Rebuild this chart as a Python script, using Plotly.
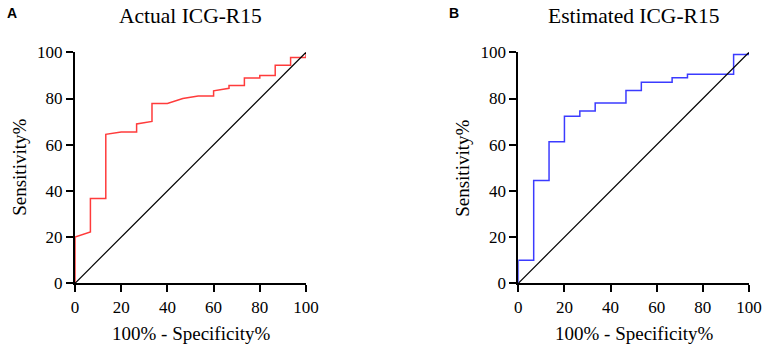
import plotly.graph_objects as go

# Data
fpr_actual = [0, 0, 6.67, 6.67, 13.33, 13.33, 20, 26.67, 26.67, 33.33, 33.33, 40, 46.67, 53.33, 60, 60,
              66.67, 66.67, 73.33, 73.33, 80, 80, 86.67, 86.67, 93.33, 93.33, 100, 100]
tpr_actual = [0, 20, 22.2, 36.7, 36.7, 64.5, 65.5, 65.5, 69, 70.1, 77.8, 77.8, 80, 81.1, 81.1, 83.3,
              84.4, 85.6, 85.6, 88.9, 88.9, 90, 90, 94.4, 94.4, 97.8, 97.8, 100]

fpr_est = [0, 0, 6.67, 6.67, 13.33, 13.33, 20, 20, 26.67, 26.67, 33.33, 33.33, 46.67, 46.67, 53.33, 53.33,
           66.67, 66.67, 73.33, 73.33, 93.33, 93.33, 100, 100]
tpr_est = [0, 10, 10, 44.5, 44.5, 61.3, 61.3, 72.3, 72.3, 74.6, 74.6, 78, 78, 83.5, 83.5, 87,
           87, 89, 89, 90.5, 90.5, 99, 99, 100]

ref_line = [0, 100]
tick_vals = [0, 20, 40, 60, 80, 100]
tick_text = ["0", "20", "40", "60", "80", "100"]

titles = ["Actual ICG-R15", "Estimated ICG-R15"]
panel_letters = ["A", "B"]
x_title = "100% - Specificity%"
y_title = "Sensitivity%"

SERIF = "Liberation Serif"

W, H = 765, 347


def px(x):
    return x / W


def py(y):
    return 1 - y / H


fig = go.Figure()

fig.add_trace(go.Scatter(x=fpr_actual, y=tpr_actual, mode="lines",
                         line=dict(color="#FF3B3B", width=1.5), xaxis="x", yaxis="y",
                         cliponaxis=False, showlegend=False))
fig.add_trace(go.Scatter(x=ref_line, y=ref_line, mode="lines",
                         line=dict(color="black", width=1.2), xaxis="x", yaxis="y",
                         cliponaxis=False, showlegend=False))
fig.add_trace(go.Scatter(x=fpr_est, y=tpr_est, mode="lines",
                         line=dict(color="#3B3BFF", width=1.5), xaxis="x2", yaxis="y2",
                         cliponaxis=False, showlegend=False))
fig.add_trace(go.Scatter(x=ref_line, y=ref_line, mode="lines",
                         line=dict(color="black", width=1.2), xaxis="x2", yaxis="y2",
                         cliponaxis=False, showlegend=False))

ydom = [py(283.3), py(52.3)]
xdom1 = [px(75), px(306)]
xdom2 = [px(518.3), px(749)]

axis_common = dict(range=[0, 100], tickvals=tick_vals, ticktext=tick_text,
                   showline=True, linecolor="black", linewidth=2,
                   ticks="outside", ticklen=7, tickwidth=2, tickcolor="black",
                   showgrid=False, zeroline=False, automargin=False,
                   tickfont=dict(family=SERIF, size=17, color="black"))

fig.update_layout(
    width=W, height=H,
    margin=dict(l=0, r=0, t=0, b=0, autoexpand=False),
    paper_bgcolor="white", plot_bgcolor="white",
    font=dict(family=SERIF, color="black"),
    xaxis=dict(domain=xdom1, anchor="y", **axis_common),
    yaxis=dict(domain=ydom, anchor="x", **axis_common),
    xaxis2=dict(domain=xdom2, anchor="y2", **axis_common),
    yaxis2=dict(domain=ydom, anchor="x2", **axis_common),
)

centers = [(xdom1[0] + xdom1[1]) / 2, (xdom2[0] + xdom2[1]) / 2]
letter_x = [px(5), px(447)]
ytitle_x = [px(20), px(463)]
for i in range(2):
    fig.add_annotation(x=centers[i], y=py(16), xref="paper", yref="paper",
                       text=titles[i], showarrow=False, xanchor="center", yanchor="middle",
                       font=dict(family=SERIF, size=21.5, color="black"))
    fig.add_annotation(x=letter_x[i], y=py(13), xref="paper", yref="paper",
                       text="<b>" + panel_letters[i] + "</b>", showarrow=False,
                       xanchor="left", yanchor="middle",
                       font=dict(family="Liberation Sans", size=14, color="black"))
    fig.add_annotation(x=centers[i], y=py(333), xref="paper", yref="paper",
                       text=x_title, showarrow=False, xanchor="center", yanchor="middle",
                       font=dict(family=SERIF, size=19, color="black"))
    fig.add_annotation(x=ytitle_x[i], y=(ydom[0] + ydom[1]) / 2, xref="paper", yref="paper",
                       text=y_title, showarrow=False, xanchor="center", yanchor="middle",
                       textangle=-90,
                       font=dict(family=SERIF, size=19, color="black"))

fig.write_html(
    "out.html",
    config={"displayModeBar": False},
    post_script="document.body.style.margin='0';document.body.style.overflow='hidden';",
)
